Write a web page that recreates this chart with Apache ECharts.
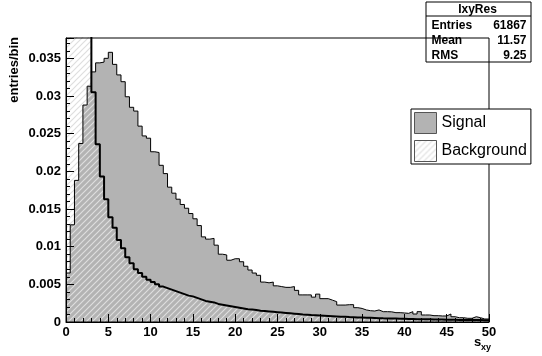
<!DOCTYPE html>
<html>
<head>
<meta charset="utf-8">
<script src="https://cdn.jsdelivr.net/npm/echarts@6/dist/echarts.min.js"></script>
<style>
html, body { margin: 0; padding: 0; background: #fff; }
#lxyres { width: 542px; height: 356px; }
</style>
</head>
<body>
<div id="lxyres"></div>
<script>
// histogram: 100 bins of 0.5 between 0 and 50, values per bin (entries/bin)
const binWidth = 0.5;

const signal = [
  0.0065, 0.0129, 0.0188, 0.0237, 0.0288, 0.0313,
  0.0332, 0.0344, 0.0345, 0.0350, 0.0358, 0.0342, 0.0328, 0.0319, 0.0299, 0.0285,
  0.0280, 0.0260, 0.0247, 0.0244, 0.0226, 0.0225, 0.0208, 0.0197, 0.0179, 0.0171,
  0.0163, 0.0156, 0.0151, 0.0144, 0.0137, 0.0128,
  0.0113, 0.0110, 0.0111, 0.0102, 0.0090, 0.0089, 0.0082, 0.0084, 0.0084, 0.0080,
  0.0074, 0.0069, 0.0065, 0.0062, 0.0053, 0.0052, 0.0053, 0.0048, 0.0047, 0.0046,
  0.0046, 0.0047, 0.0042, 0.0036, 0.0036, 0.0036, 0.0033, 0.0037, 0.0031, 0.0031,
  0.0029, 0.0027,
  0.00225, 0.00225, 0.0023, 0.0023, 0.0019, 0.0018, 0.0016, 0.0015, 0.00146, 0.0016,
  0.00137, 0.00137, 0.00135, 0.00124, 0.00124, 0.0012, 0.00115, 0.00137, 0.00106, 0.00137,
  0.00093, 0.00093, 0.00084, 0.00084, 0.0008, 0.0008, 0.00106, 0.0007, 0.00057, 0.00057,
  0.00049, 0.00049, 0.0007, 0.00057, 0.0004, 0.0004
];

// first six bins are off the top of the frame
const background = [
  0.100, 0.090, 0.075, 0.062, 0.050, 0.042,
  0.0305, 0.0236, 0.0193, 0.0163, 0.0139, 0.0125, 0.0109, 0.0098, 0.0086, 0.0078,
  0.0070, 0.0065, 0.0060, 0.0056, 0.0053, 0.0050, 0.0047, 0.0045, 0.0043, 0.0041,
  0.0039, 0.0037, 0.0035, 0.0034, 0.0032, 0.0030,
  0.0028, 0.0027, 0.0026, 0.0024, 0.0023, 0.0022, 0.0021, 0.0020, 0.0019, 0.0018,
  0.0017, 0.00165, 0.0016, 0.0015, 0.00145, 0.0014, 0.00135, 0.0013, 0.00125, 0.0012,
  0.00115, 0.0011, 0.00105, 0.0010, 0.00096, 0.00092, 0.00089, 0.00086, 0.00083, 0.0008,
  0.00077, 0.00074,
  0.00071, 0.00069, 0.00066, 0.00064, 0.00061, 0.00059, 0.00057, 0.00055, 0.00053, 0.00051,
  0.00049, 0.00048, 0.00046, 0.00045, 0.00043, 0.00042, 0.0004, 0.00039, 0.00038, 0.00037,
  0.00036, 0.00035, 0.00034, 0.00033, 0.00032, 0.00031, 0.0003, 0.00029, 0.00028, 0.00028,
  0.00027, 0.00026, 0.00025, 0.00025, 0.00024, 0.00023
];

const statsTitle = 'IxyRes';
const statsRows = [['Entries', '61867'], ['Mean', '11.57'], ['RMS', '9.25']];

const FONT = 'Liberation Sans';

// [lowEdge, value] pairs + closing point at the last upper edge
function toSteps(vals) {
  const pts = vals.map((v, i) => [i * binWidth, v]);
  pts.push([vals.length * binWidth, vals[vals.length - 1]]);
  return pts;
}

function makeHatch() {
  const c = document.createElement('canvas');
  c.width = 6;
  c.height = 6;
  const ctx = c.getContext('2d');
  ctx.strokeStyle = '#dedede';
  ctx.lineWidth = 1.2;
  ctx.beginPath();
  ctx.moveTo(0, 6); ctx.lineTo(6, 0);
  ctx.moveTo(-1, 1); ctx.lineTo(1, -1);
  ctx.moveTo(5, 7); ctx.lineTo(7, 5);
  ctx.stroke();
  return c;
}
const hatch = { image: makeHatch(), repeat: 'repeat' };

const labelStyle = { fontFamily: FONT, fontWeight: 'bold', fontSize: 13, color: '#000' };

const statsChildren = [
  { type: 'rect', shape: { x: 0.5, y: 0.5, width: 105, height: 60 }, style: { fill: '#fff', stroke: '#000', lineWidth: 1 } },
  { type: 'line', shape: { x1: 0.5, y1: 14.5, x2: 105.5, y2: 14.5 }, style: { stroke: '#000', lineWidth: 1 } },
  { type: 'text', x: 52, y: 8, style: { text: statsTitle, fontFamily: FONT, fontWeight: 'bold', fontSize: 12, fill: '#000', align: 'center', verticalAlign: 'middle' } }
];
statsRows.forEach((r, i) => {
  statsChildren.push({ type: 'text', x: 6, y: 24 + i * 15.3, style: { text: r[0], fontFamily: FONT, fontWeight: 'bold', fontSize: 12, fill: '#000', align: 'left', verticalAlign: 'middle' } });
  statsChildren.push({ type: 'text', x: 101, y: 24 + i * 15.3, style: { text: r[1], fontFamily: FONT, fontWeight: 'bold', fontSize: 12, fill: '#000', align: 'right', verticalAlign: 'middle' } });
});

const chart = echarts.init(document.getElementById('lxyres'));
chart.setOption({
  animation: false,
  textStyle: { fontFamily: FONT },
  grid: {
    show: true,
    left: 66, right: 53, top: 38, bottom: 34,
    borderColor: '#000', borderWidth: 1,
    backgroundColor: 'transparent',
    z: 10,
    outerBoundsMode: 'none'
  },
  xAxis: {
    type: 'value',
    min: 0, max: 50, interval: 5,
    z: 6,
    axisLine: { show: true, lineStyle: { color: '#000', width: 1 } },
    axisTick: { show: true, inside: true, length: 8, lineStyle: { color: '#000' } },
    minorTick: { show: true, splitNumber: 5, length: 4, lineStyle: { color: '#000' } },
    splitLine: { show: false },
    axisLabel: Object.assign({ margin: 4 }, labelStyle)
  },
  yAxis: {
    type: 'value',
    min: 0, max: 0.0377, interval: 0.005,
    z: 6,
    axisLine: { show: true, lineStyle: { color: '#000', width: 1 } },
    axisTick: { show: true, inside: true, length: 8, lineStyle: { color: '#000' } },
    minorTick: { show: true, splitNumber: 5, length: 4, lineStyle: { color: '#000' } },
    splitLine: { show: false },
    axisLabel: Object.assign({ margin: 5, showMaxLabel: false }, labelStyle)
  },
  legend: {
    left: 411, top: 109,
    orient: 'vertical',
    icon: 'rect',
    itemWidth: 22, itemHeight: 21, itemGap: 6,
    padding: [3, 4, 2, 3],
    backgroundColor: '#fff', borderColor: '#000', borderWidth: 1,
    selectedMode: false,
    z: 20,
    textStyle: { fontFamily: FONT, fontSize: 16, color: '#000' },
    data: [
      { name: 'Signal', itemStyle: { color: '#b3b3b3', borderColor: '#555', borderWidth: 1 } },
      { name: 'Background', itemStyle: { color: hatch, borderColor: '#555', borderWidth: 1 } }
    ]
  },
  graphic: [
    { type: 'group', x: 425.5, y: 1.5, z: 20, children: statsChildren },
    { type: 'text', x: 14, y: 37, rotation: Math.PI / 2, z: 20,
      style: { text: 'entries/bin', fontFamily: FONT, fontWeight: 'bold', fontSize: 13, fill: '#000', align: 'right', verticalAlign: 'middle' } },
    { type: 'text', x: 474, y: 342, z: 20,
      style: { text: 's', fontFamily: FONT, fontWeight: 'bold', fontSize: 13, fill: '#000', align: 'left', verticalAlign: 'middle' } },
    { type: 'text', x: 481, y: 348, z: 20,
      style: { text: 'xy', fontFamily: FONT, fontWeight: 'bold', fontSize: 9, fill: '#000', align: 'left', verticalAlign: 'middle' } }
  ],
  series: [
    {
      name: 'Signal',
      type: 'line',
      step: 'end',
      symbol: 'none',
      data: toSteps(signal),
      itemStyle: { color: '#b3b3b3' },
      lineStyle: { color: '#000', width: 1 },
      areaStyle: { color: '#b3b3b3', opacity: 1 }
    },
    {
      name: 'Background',
      type: 'line',
      step: 'end',
      symbol: 'none',
      data: toSteps(background),
      itemStyle: { color: '#000' },
      lineStyle: { color: '#000', width: 2 },
      areaStyle: { color: hatch, opacity: 1 }
    }
  ]
});
</script>
</body>
</html>
